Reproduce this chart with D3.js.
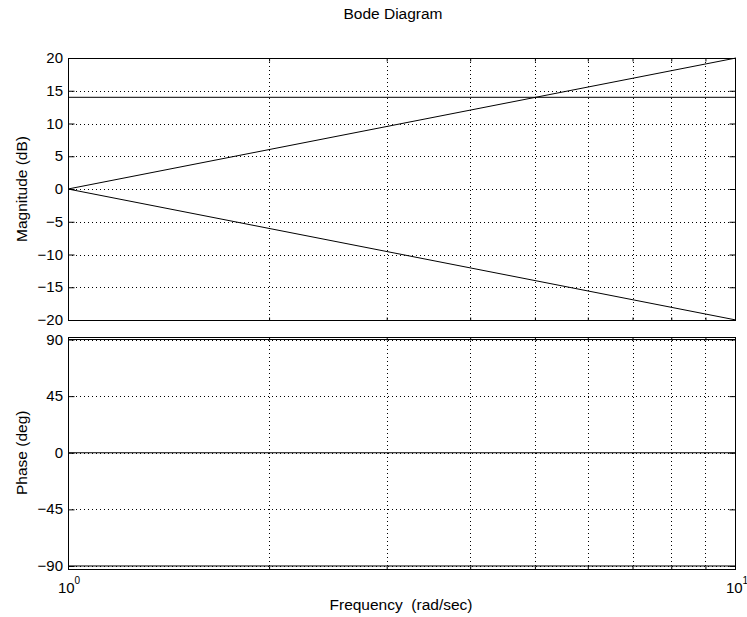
<!DOCTYPE html>
<html>
<head>
<meta charset="utf-8">
<script src="https://cdn.jsdelivr.net/npm/d3@7"></script>
<style>
  body { margin: 0; background: #fff; }
  text { font-family: "Liberation Sans", Arial, Helvetica, sans-serif; font-size: 15px; fill: #000; }
  .lbl { font-size: 15.5px; }
</style>
</head>
<body>
<div id="my_dataviz"></div>
<script>
// frequency points (rad/sec)
var freq = [1, 10];
// magnitude series (dB)
var magConst = [14, 14];
var magUp = [0, 20];
var magDown = [0, -20];
// phase series (deg)
var phaseUp = [90, 90];
var phaseZero = [0, 0];
var phaseDown = [-90, -90];

var magTicks = [-20, -15, -10, -5, 0, 5, 10, 15, 20];
var phaseTicks = [-90, -45, 0, 45, 90];
var majorX = [1, 10];
var minorX = [2, 3, 4, 5, 6, 7, 8, 9];

var W = 747, H = 617;
var left = 68, right = 736;

var svg = d3.select("#my_dataviz")
    .append("svg")
    .attr("width", W)
    .attr("height", H);

var x = d3.scaleLog()
    .domain([1, 10])
    .range([left, right]);

var yMag = d3.scaleLinear()
    .domain([-20, 20])
    .range([320, 58]);

var yPh = d3.scaleLinear()
    .domain([-92, 92])
    .range([568.5, 337]);

function drawPanel(y, ticks, series) {
    var top = y.range()[1], bottom = y.range()[0];
    var g = svg.append("g");

    // grid
    g.selectAll(".hgrid")
        .data(ticks)
        .enter()
        .append("line")
        .attr("x1", left).attr("x2", right)
        .attr("y1", function(d) { return Math.round(y(d)) + 0.5; })
        .attr("y2", function(d) { return Math.round(y(d)) + 0.5; })
        .attr("stroke", "#000")
        .attr("stroke-width", 1)
        .attr("stroke-dasharray", "1,3");

    g.selectAll(".vgrid")
        .data(minorX)
        .enter()
        .append("line")
        .attr("x1", function(d) { return Math.round(x(d)) + 0.5; })
        .attr("x2", function(d) { return Math.round(x(d)) + 0.5; })
        .attr("y1", top).attr("y2", bottom)
        .attr("stroke", "#000")
        .attr("stroke-width", 1)
        .attr("stroke-dasharray", "1,3");

    // data lines
    var line = d3.line()
        .x(function(d) { return x(d[0]); })
        .y(function(d) { return y(d[1]); });
    series.forEach(function(s) {
        g.append("path")
            .datum(freq.map(function(f, i) { return [f, s[i]]; }))
            .attr("d", line)
            .attr("fill", "none")
            .attr("stroke", "#000")
            .attr("stroke-width", 1);
    });

    // box
    g.append("rect")
        .attr("x", left + 0.5).attr("y", Math.round(top) + 0.5)
        .attr("width", right - left - 1)
        .attr("height", Math.round(bottom) - Math.round(top))
        .attr("fill", "none")
        .attr("stroke", "#000")
        .attr("stroke-width", 1);

    // y ticks left and right
    g.append("g")
        .attr("transform", "translate(" + (left + 0.5) + ",0)")
        .call(d3.axisRight(y).tickValues(ticks).tickSize(6).tickFormat(""))
        .call(function(a) { a.select(".domain").remove(); });
    g.append("g")
        .attr("transform", "translate(" + (right - 0.5) + ",0)")
        .call(d3.axisLeft(y).tickValues(ticks).tickSize(6).tickFormat(""))
        .call(function(a) { a.select(".domain").remove(); });

    // y tick labels
    g.selectAll(".ylab")
        .data(ticks)
        .enter()
        .append("text")
        .attr("x", left - 5)
        .attr("y", function(d) { return y(d) + 5; })
        .attr("text-anchor", "end")
        .text(function(d) { return d < 0 ? "\u2212" + Math.abs(d) : d; });

    // x minor ticks top and bottom
    g.append("g")
        .attr("transform", "translate(0," + (Math.round(top) + 0.5) + ")")
        .call(d3.axisBottom(x).tickValues(minorX).tickSize(3).tickFormat(""))
        .call(function(a) { a.select(".domain").remove(); });
    g.append("g")
        .attr("transform", "translate(0," + (Math.round(bottom) + 0.5) + ")")
        .call(d3.axisTop(x).tickValues(minorX).tickSize(3).tickFormat(""))
        .call(function(a) { a.select(".domain").remove(); });
    return g;
}

drawPanel(yMag, magTicks, [magConst, magUp, magDown]);
drawPanel(yPh, phaseTicks, [phaseUp, phaseZero, phaseDown]);

// x tick labels 10^n
majorX.forEach(function(v) {
    var t = svg.append("text")
        .attr("x", x(v) + 1)
        .attr("y", 593)
        .attr("text-anchor", "middle");
    t.append("tspan").text("10");
    t.append("tspan")
        .attr("dy", -9)
        .style("font-size", "10px")
        .text(Math.round(Math.log10(v)));
});

// titles
svg.append("text")
    .attr("class", "lbl")
    .attr("x", 393)
    .attr("y", 19)
    .attr("text-anchor", "middle")
    .text("Bode Diagram");

svg.append("text")
    .attr("class", "lbl")
    .attr("x", 401)
    .attr("y", 610)
    .attr("text-anchor", "middle")
    .attr("xml:space", "preserve")
    .style("white-space", "pre")
    .text("Frequency  (rad/sec)");

svg.append("text")
    .attr("class", "lbl")
    .attr("transform", "translate(27," + yMag(0) + ") rotate(-90)")
    .attr("text-anchor", "middle")
    .text("Magnitude (dB)");

svg.append("text")
    .attr("class", "lbl")
    .attr("transform", "translate(27," + yPh(0) + ") rotate(-90)")
    .attr("text-anchor", "middle")
    .text("Phase (deg)");
</script>
</body>
</html>
